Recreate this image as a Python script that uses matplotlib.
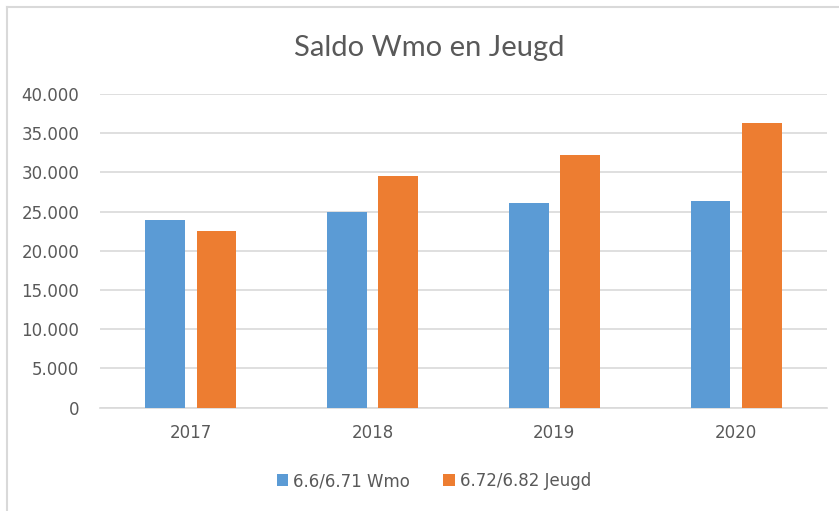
import matplotlib
matplotlib.use("Agg")
import matplotlib.pyplot as plt
import numpy as np
from matplotlib.ticker import FuncFormatter

# data
years = ["2017", "2018", "2019", "2020"]
wmo = [23900, 25000, 26150, 26400]
jeugd = [22500, 29500, 32200, 36300]
series_names = ["6.6/6.71 Wmo", "6.72/6.82 Jeugd"]

BLUE = "#5B9BD5"
ORANGE = "#ED7D31"
TEXT = "#595959"
GRID = "#D9D9D9"

fig = plt.figure(figsize=(8.39, 5.11), dpi=100)
fig.patch.set_facecolor("white")
ax = fig.add_axes([100 / 839, 103.3 / 511, 727 / 839, 313.7 / 511])

x = np.arange(len(years))
w = 0.22
off = 0.141
ax.bar(x - off, wmo, width=w, color=BLUE, label=series_names[0], zorder=3)
ax.bar(x + off, jeugd, width=w, color=ORANGE, label=series_names[1], zorder=3)

ax.set_xlim(-0.5, len(years) - 0.5)
ax.set_ylim(0, 40000)
ax.set_yticks(np.arange(0, 40001, 5000))
ax.yaxis.set_major_formatter(FuncFormatter(lambda v, p: f"{int(v):,}".replace(",", ".")))
ax.set_xticks(x)
ax.set_xticklabels(years)

ax.grid(axis="y", color=GRID, lw=1.2, zorder=0)
ax.set_axisbelow(True)
for s in ["top", "right", "left"]:
    ax.spines[s].set_visible(False)
ax.spines["bottom"].set_color(GRID)
ax.spines["bottom"].set_linewidth(1.2)
ax.tick_params(axis="both", length=0, labelsize=12, colors=TEXT, labelfontfamily="DejaVu Sans")
ax.tick_params(axis="y", pad=15)
ax.tick_params(axis="x", pad=12)

fig.text(429 / 839, 1 - 48 / 511, "Saldo Wmo en Jeugd", ha="center", va="center",
         fontsize=21, color=TEXT, family=["Lato", "DejaVu Sans"])

leg = fig.legend(loc="center", bbox_to_anchor=(434 / 839, 1 - 481 / 511), ncol=2,
                 frameon=False, fontsize=12, handlelength=0.7, handleheight=0.7,
                 handletextpad=0.3, columnspacing=2.0)
for t in leg.get_texts():
    t.set_color(TEXT)

# chart frame (only top and left edges visible in the crop)
fig.add_artist(plt.Line2D([6.5 / 839, 6.5 / 839], [0, 1 - 7 / 511], color="#D9D9D9", lw=1.5))
fig.add_artist(plt.Line2D([6.5 / 839, 1], [1 - 7 / 511, 1 - 7 / 511], color="#D9D9D9", lw=1.5))

fig.savefig("out.png", dpi=100)
